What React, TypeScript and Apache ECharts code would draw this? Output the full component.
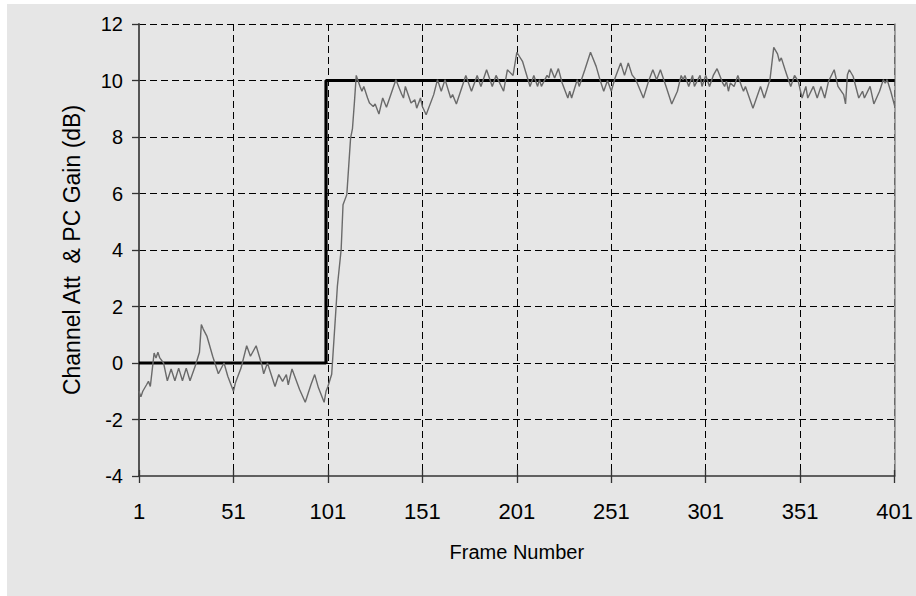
import { useEffect, useRef } from "react";
import * as echarts from "echarts";

// PC gain (noisy trace): frame numbers and values in dB
const frames = [
  1, 2, 3, 5, 6, 7, 9, 10, 11, 12, 14, 16, 18, 20, 22, 24, 26, 28, 31, 33,
  34, 35, 37, 38, 40, 43, 46, 48, 51, 52, 55, 58, 60, 63, 66, 67, 69, 73, 75, 77,
  79, 80, 82, 86, 89, 92, 94, 96, 99, 100, 101, 103, 105, 106, 108, 109, 111, 112, 113, 114,
  115, 116, 118, 119, 120, 122, 123, 125, 126, 128, 130, 132, 137, 140, 141, 142, 145, 147, 148, 150,
  151, 153, 157, 159, 161, 163, 166, 167, 169, 174, 177, 180, 182, 185, 188, 190, 194, 196, 199, 201,
  204, 208, 210, 212, 213, 214, 217, 218, 219, 221, 223, 225, 228, 229, 230, 233, 234, 237, 240, 243,
  245, 247, 249, 251, 253, 256, 258, 260, 262, 264, 268, 271, 273, 275, 277, 280, 283, 286, 288, 289,
  290, 292, 294, 295, 298, 299, 301, 303, 305, 307, 310, 311, 312, 313, 314, 316, 318, 320, 321, 322,
  326, 330, 332, 335, 337, 339, 340, 341, 343, 344, 346, 348, 350, 352, 354, 355, 358, 360, 362, 364,
  366, 369, 371, 374, 375, 376, 377, 379, 382, 384, 385, 388, 390, 393, 395, 396, 397, 399, 401,
];
const pcGain = [
  -1.0, -1.2, -1.0, -0.77, -0.65, -0.83, 0.35, 0.18, 0.38, 0.18, 0.0, -0.63, -0.21, -0.63, -0.18, -0.63, -0.18, -0.63, -0.06, 0.38,
  1.36, 1.2, 0.94, 0.71, 0.24, -0.38, 0.0, -0.47, -1.0, -0.71, -0.18, 0.61, 0.24, 0.61, -0.06, -0.38, 0.0, -0.83, -0.41, -0.65,
  -0.41, -0.77, -0.21, -0.94, -1.39, -0.77, -0.41, -0.88, -1.39, -1.0, -0.83, -0.4, 1.65, 2.71, 4.01, 5.6, 5.96, 6.96, 7.96, 8.3,
  9.2, 10.18, 9.79, 9.62, 9.79, 9.38, 9.2, 9.08, 9.17, 8.81, 9.38, 9.05, 10.03, 9.52, 9.38, 9.79, 9.2, 9.32, 9.02, 9.38,
  9.08, 8.79, 9.5, 10.03, 9.62, 10.03, 9.38, 9.5, 9.17, 10.18, 9.62, 10.18, 9.79, 10.38, 9.79, 10.18, 9.62, 10.38, 10.18, 11.0,
  10.68, 9.79, 10.18, 9.79, 10.03, 9.79, 10.18, 10.09, 10.42, 10.09, 10.42, 9.91, 9.38, 9.62, 9.38, 10.03, 9.79, 10.38, 11.0, 10.5,
  10.03, 9.62, 10.0, 9.62, 10.09, 10.62, 10.18, 10.62, 10.2, 10.03, 9.38, 10.03, 10.38, 10.03, 10.38, 9.79, 9.17, 9.62, 10.18, 10.03,
  10.18, 9.79, 10.18, 9.79, 10.18, 9.79, 10.18, 9.79, 10.18, 10.42, 9.91, 9.79, 9.97, 9.62, 9.91, 9.79, 10.18, 9.79, 9.62, 9.79,
  9.02, 9.79, 9.38, 10.03, 11.17, 10.94, 10.68, 10.8, 10.38, 10.18, 9.79, 10.18, 9.97, 9.38, 9.79, 9.38, 9.79, 9.38, 9.79, 9.38,
  9.97, 10.38, 9.79, 9.5, 9.17, 10.2, 10.38, 10.15, 9.38, 9.62, 9.38, 9.79, 9.17, 9.62, 10.03, 9.91, 10.03, 9.6, 9.1,
];

// Channel attenuation (step): frame numbers and values in dB
const stepFrames = [1, 100, 100, 401];
const channelAtt = [0, 0, 10, 10];

const xTickLabels = ["1", "51", "101", "151", "201", "251", "301", "351", "401"];
const yMin = -4;
const yMax = 12;
const yStep = 2;
const xName = "Frame Number";
const yName = "Channel Att  & PC Gain (dB)";

const FONT = "'Liberation Sans', Arial, sans-serif";

export default function App() {
  const ref = useRef<HTMLDivElement>(null);

  useEffect(() => {
    if (!ref.current) return;
    const chart = echarts.init(ref.current, null, { renderer: "svg" });
    const dashed = { color: "#000", width: 1, type: [7, 4] as number[] };
    chart.setOption({
      animation: false,
      backgroundColor: "transparent",
      grid: { left: 139, right: 17, top: 24, bottom: 120, containLabel: false },
      xAxis: [
        {
          type: "value",
          min: 0,
          max: 400,
          interval: 50,
          position: "bottom",
          name: xName,
          nameLocation: "middle",
          nameGap: 66,
          nameTextStyle: { color: "#000", fontSize: 20, fontFamily: FONT },
          axisLine: { show: true, onZero: false, lineStyle: { color: "#333", width: 1.5 } },
          axisTick: { show: true, inside: false, length: 7, lineStyle: { color: "#333", width: 1.3 } },
          axisLabel: {
            margin: 24,
            color: "#000",
            fontSize: 22,
            fontFamily: FONT,
            formatter: (v: number) => xTickLabels[Math.round(v / 50)] ?? "",
          },
          splitLine: { show: true, showMinLine: false, lineStyle: dashed },
        },
        {
          type: "value",
          min: 0,
          max: 400,
          interval: 50,
          position: "bottom",
          axisLine: { show: false, onZero: false },
          axisTick: { show: true, inside: true, length: 6, lineStyle: { color: "#333", width: 1.3 } },
          axisLabel: { show: false },
          splitLine: { show: false },
        },
      ],
      yAxis: [
        {
          type: "value",
          min: yMin,
          max: yMax,
          interval: yStep,
          position: "left",
          name: yName,
          nameLocation: "middle",
          nameGap: 56,
          nameTextStyle: { color: "#000", fontSize: 23, fontFamily: FONT },
          axisLine: { show: true, onZero: false, lineStyle: { color: "#444", width: 1.8 } },
          axisTick: { show: true, inside: false, length: 7, lineStyle: { color: "#333", width: 1.3 } },
          axisLabel: { margin: 16, color: "#000", fontSize: 20, fontFamily: FONT },
          splitLine: { show: true, showMinLine: false, lineStyle: dashed },
        },
        {
          type: "value",
          min: yMin,
          max: yMax,
          interval: yStep,
          position: "right",
          axisLine: { show: true, onZero: false, lineStyle: { color: "#8a8a8a", width: 1.5 } },
          axisTick: { show: false },
          axisLabel: { show: false },
          splitLine: { show: false },
        },
      ],
      series: [
        {
          name: "Channel Att",
          type: "line",
          xAxisIndex: 0,
          yAxisIndex: 0,
          data: stepFrames.map((f, i) => [f - 1, channelAtt[i]]),
          showSymbol: false,
          lineStyle: { color: "#000", width: 3.2 },
          z: 3,
        },
        {
          name: "PC Gain",
          type: "line",
          xAxisIndex: 0,
          yAxisIndex: 0,
          data: frames.map((f, i) => [f - 1, pcGain[i]]),
          showSymbol: false,
          lineStyle: { color: "#6a6a6a", width: 1.4 },
          z: 4,
        },
      ],
    });
    return () => chart.dispose();
  }, []);

  return (
    <div style={{ position: "absolute", left: 0, top: 0, width: 916, height: 596, background: "#fff" }}>
      <div style={{ position: "absolute", left: 7, top: 4, right: 0, bottom: 0, background: "#e6e6e6" }} />
      <div ref={ref} style={{ position: "absolute", left: 0, top: 0, width: 916, height: 596 }} />
    </div>
  );
}
